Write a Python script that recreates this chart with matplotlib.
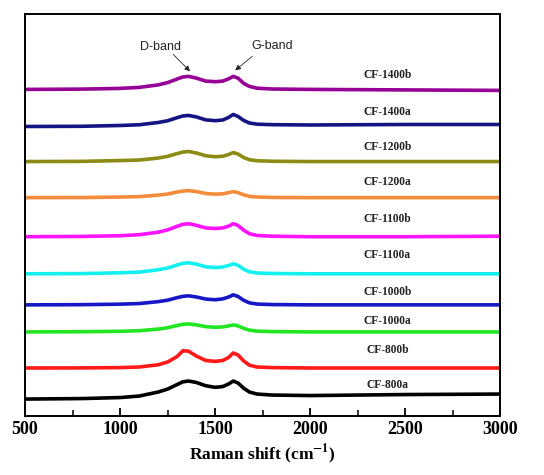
import numpy as np
import matplotlib.pyplot as plt
from matplotlib.ticker import MultipleLocator

plt.rcParams['mathtext.fontset'] = 'stix'

#------------------------------------------------------------------------------#

# Raman shift sample points (cm^-1), shared by all spectra
shift = [500, 800, 1000, 1100, 1200, 1250, 1300, 1330, 1360, 1400, 1450, 1500,
         1540, 1570, 1595, 1620, 1650, 1680, 1720, 1800, 2000, 2500, 3000]

# stacked intensities (arb. units, offsets included), bottom to top
cf800a  = [17, 17.5, 18.5, 20, 24, 27, 31.5, 34.2, 35, 33.6, 30.3, 28.7,
           29.5, 32, 35, 33, 27.8, 24, 22, 21, 20.5, 21.5, 22]
cf800b  = [48, 48.1, 48.4, 49, 51.2, 54, 59.5, 65.2, 64.8, 60, 55.5, 54.6,
           55.5, 58.5, 63, 61, 55, 50.8, 49, 48.4, 48, 48, 48]
cf1000a = [84, 84.2, 84.6, 85.2, 86.8, 88.2, 90.4, 91.6, 92, 91.1, 89.3, 88.6,
           89, 90, 91, 90, 87.5, 85.8, 84.8, 84.3, 84, 84, 84]
cf1000b = [111, 111.2, 111.7, 112.3, 114.2, 115.7, 118.2, 119.5, 120, 118.9, 116.8, 116.1,
           117, 118.8, 121, 119.4, 115.5, 113, 111.8, 111.3, 111, 111, 111]
cf1100a = [142, 142.2, 143, 143.7, 146, 147.7, 150.8, 152.5, 153, 151.7, 149, 148.2,
           148.8, 150.3, 152, 150.5, 146.5, 144, 142.8, 142.3, 142, 142, 142]
cf1100b = [179, 179.3, 180, 181, 183.5, 185.8, 189.4, 191.4, 192, 190.4, 187.8, 187.2,
           187.8, 189.5, 192, 190.2, 185.5, 182, 180.2, 179.5, 179, 179, 179.5]
cf1200a = [218, 218.1, 218.6, 219, 220.5, 221.6, 223.6, 224.6, 225, 224.1, 222.1, 221.5,
           221.8, 223, 224, 223, 220.8, 219.3, 218.6, 218.2, 218, 218, 218]
cf1200b = [254, 254.2, 255, 255.5, 257.5, 259.2, 262, 263.5, 264, 262.6, 259.8, 258.8,
           259.3, 261, 263, 261.5, 258, 255.8, 254.8, 254.3, 254, 254, 254]
cf1400a = [289, 289.2, 290, 290.7, 293, 294.7, 297.8, 299.5, 300, 298.6, 295.6, 294.8,
           295.5, 298, 301, 299, 295, 292.5, 291.3, 290.8, 290.5, 291, 291]
cf1400b = [326, 326.3, 327, 328, 330.5, 332.8, 336.4, 338.4, 339, 337.3, 334.3, 333.7,
           334.3, 336.5, 339, 337.2, 332, 329, 327.2, 326.4, 326, 325.5, 325]

names = ['CF-800a', 'CF-800b', 'CF-1000a', 'CF-1000b', 'CF-1100a',
         'CF-1100b', 'CF-1200a', 'CF-1200b', 'CF-1400a', 'CF-1400b']
spectra = [cf800a, cf800b, cf1000a, cf1000b, cf1100a,
           cf1100b, cf1200a, cf1200b, cf1400a, cf1400b]
colors = ['#000000', '#ff1a1a', '#22e622', '#1717c8', '#14f0f0',
          '#ff14ff', '#f58c3c', '#8c8c14', '#141482', '#960096']
label_y = [31, 66, 95, 124, 161, 197, 234, 269, 303, 340]

#------------------------------------------------------------------------------#

fig = plt.figure(figsize = (5.44, 4.75), dpi = 100)
ax = fig.add_axes([0.046, 0.124, 0.874, 0.846])

for y, c, n, ly in zip(spectra, colors, names, label_y):
    ax.plot(shift, y, color = c, lw = 2.6, solid_joinstyle = 'round')
    ax.text(2405, ly, n, ha = 'center', va = 'center', fontsize = 8.3,
        fontweight = 'bold', family = 'Liberation Serif', color = '#222222')

# band markers
ax.text(1211, 368, 'D-band', ha = 'center', va = 'center', fontsize = 9,
    family = 'Liberation Sans', color = '#222222')
ax.text(1800, 369, 'G-band', ha = 'center', va = 'center', fontsize = 9,
    family = 'Liberation Sans', color = '#222222')
arrow = dict(arrowstyle = '-|>', color = '#222222', lw = 0.6,
    mutation_scale = 8, shrinkA = 0, shrinkB = 0)
ax.annotate('', xy = (1368, 344), xytext = (1279, 361), arrowprops = arrow)
ax.annotate('', xy = (1605, 345), xytext = (1695, 359), arrowprops = arrow)

ax.set_xlim(500, 3000)
ax.set_ylim(0, 401)
ax.set_yticks([])
ax.xaxis.set_major_locator(MultipleLocator(500))
ax.xaxis.set_minor_locator(MultipleLocator(250))
ax.tick_params(axis = 'x', which = 'major', direction = 'in', length = 6,
    width = 1.3, top = False, labelsize = 13)
ax.tick_params(axis = 'x', which = 'minor', direction = 'in', length = 4,
    width = 1.1, top = False)
for lbl in ax.get_xticklabels():
    lbl.set_fontweight('bold')
    lbl.set_family('Liberation Serif')
for s in ax.spines.values():
    s.set_linewidth(1.4)

ax.set_xlabel('Raman shift (cm$^{\\mathbf{-1}}$)', fontsize = 12.5,
    fontweight = 'bold', family = 'Liberation Serif', labelpad = 3)

plt.savefig('out.png', dpi = 100)
